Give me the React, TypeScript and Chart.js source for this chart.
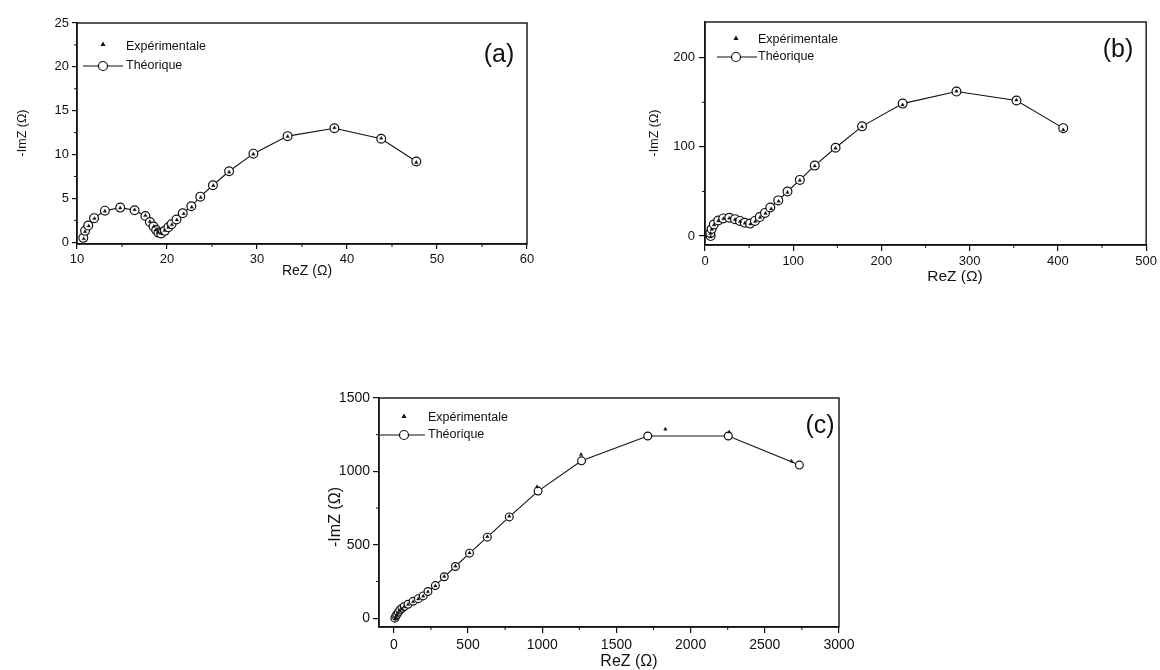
import React, { useEffect, useRef } from 'react';
import { Chart, registerables } from 'chart.js';

Chart.register(...registerables);

// ---------- shared text ----------
const legendLabels = ['Expérimentale', 'Théorique'];
const xTitle = 'ReZ (Ω)';
const yTitle = '-ImZ (Ω)';

// ---------- panel (a) ----------
const reA_theo = [10.7, 10.9, 11.25, 11.9, 13.1, 14.8, 16.4, 17.6, 18.1, 18.5, 18.8, 19.05, 19.35, 19.75, 20.15, 20.5, 21.05, 21.75, 22.7, 23.7, 25.1, 26.9, 29.6, 33.4, 38.6, 43.8, 47.7];
const imA_theo = [0.5, 1.3, 1.9, 2.75, 3.6, 3.95, 3.65, 3.0, 2.3, 1.8, 1.4, 1.1, 1.0, 1.3, 1.7, 2.05, 2.6, 3.3, 4.1, 5.2, 6.5, 8.1, 10.1, 12.1, 13.0, 11.8, 9.2];
const reA_exp = [10.75, 10.9, 11.3, 11.95, 13.1, 14.8, 16.4, 17.6, 18.1, 18.55, 18.85, 19.05, 19.35, 19.75, 20.15, 20.55, 21.1, 21.85, 22.75, 23.75, 25.15, 26.9, 29.6, 33.4, 38.6, 43.8, 47.7];
const imA_exp = [0.4, 1.2, 1.85, 2.7, 3.55, 3.9, 3.7, 3.05, 2.35, 1.8, 1.4, 1.1, 1.0, 1.35, 1.7, 2.0, 2.55, 3.25, 4.0, 5.1, 6.45, 8.0, 10.05, 12.05, 13.05, 11.85, 9.1];
const xTicksA = [10, 20, 30, 40, 50, 60];
const yTicksA = [0, 5, 10, 15, 20, 25];

// ---------- panel (b) ----------
const reB_theo = [6.4, 6.0, 7.5, 10, 15, 20.7, 27.5, 34, 39.6, 45, 51, 56.6, 62, 68, 74, 83, 93.5, 107.5, 124.4, 148, 178, 224, 285, 353, 406];
const imB_theo = [0, 3.5, 8, 13, 17.5, 19.8, 20.5, 19, 17, 15, 14, 17, 21.3, 26, 32, 40, 50, 63, 79, 99, 123, 148.5, 162, 152, 121];
const reB_exp = [6.4, 6.2, 7.6, 10.2, 15.2, 21, 27.5, 34, 39.8, 45.2, 51.5, 57, 62.5, 68.5, 75, 83.5, 93.5, 107.5, 124.4, 148, 178, 224, 285, 353, 406];
const imB_exp = [-1, 3, 7.5, 12.5, 17, 19.5, 20, 18.5, 16.5, 14.5, 13.5, 16.5, 21, 25.5, 30.5, 39, 49, 62.5, 78.5, 98.5, 122.5, 147, 162.5, 152.5, 119];
const xTicksB = [0, 100, 200, 300, 400, 500];
const yTicksB = [0, 100, 200];

// ---------- panel (c) ----------
const reC_theo = [7, 13, 20, 30, 40, 55, 70, 96, 130, 165, 198, 230, 280, 340, 415, 510, 630, 778, 972, 1265, 1711, 2254, 2733];
const imC_theo = [0, 14, 25, 40, 55, 68, 80, 95, 115, 133, 152, 182, 222, 282, 352, 443, 552, 690, 866, 1072, 1241, 1241, 1043];
const reC_exp = [7, 13, 20, 30, 40, 55, 70, 96, 130, 165, 198, 230, 280, 340, 415, 510, 630, 778, 965, 1262, 1830, 2260, 2680];
const imC_exp = [-5, 10, 22, 37, 52, 65, 78, 93, 112, 131, 150, 180, 220, 285, 355, 445, 555, 695, 895, 1115, 1288, 1268, 1070];
const xTicksC = [0, 500, 1000, 1500, 2000, 2500, 3000];
const yTicksC = [0, 500, 1000, 1500];

const FONT = '"Liberation Sans", Arial, sans-serif';
const INK = '#111';

const midpoints = (t: number[]) => t.slice(0, -1).map((v, i) => (v + t[i + 1]) / 2);

const decorPlugin = {
  id: 'decor',
  afterDraw(chart: any, _args: any, o: any) {
    const { ctx, chartArea: a, scales } = chart;
    ctx.save();
    ctx.strokeStyle = INK;
    ctx.fillStyle = INK;
    // frame
    ctx.lineWidth = 1.4;
    ctx.strokeRect(a.left, a.top, a.right - a.left, a.bottom - a.top);
    // minor ticks
    ctx.lineWidth = 1;
    ctx.beginPath();
    for (const v of o.xMinor) {
      const px = scales.x.getPixelForValue(v);
      ctx.moveTo(px, a.bottom);
      ctx.lineTo(px, a.bottom + 3);
    }
    for (const v of o.yMinor) {
      const py = scales.y.getPixelForValue(v);
      ctx.moveTo(a.left, py);
      ctx.lineTo(a.left - 3, py);
    }
    ctx.stroke();
    // axis titles
    ctx.textAlign = 'center';
    ctx.textBaseline = 'middle';
    ctx.font = `${o.xTitleSize}px ${FONT}`;
    ctx.fillText(xTitle, o.xTitlePos[0], o.xTitlePos[1]);
    ctx.save();
    ctx.translate(o.yTitlePos[0], o.yTitlePos[1]);
    ctx.rotate(-Math.PI / 2);
    ctx.font = `${o.yTitleSize}px ${FONT}`;
    ctx.fillText(yTitle, 0, 0);
    ctx.restore();
    // panel label
    ctx.font = `25px ${FONT}`;
    ctx.fillText(o.label, o.labelPos[0], o.labelPos[1]);
    // legend
    const L = o.legend;
    ctx.beginPath();
    const s = 2.6;
    ctx.moveTo(L.mx, L.tri - s);
    ctx.lineTo(L.mx + s, L.tri + s * 0.8);
    ctx.lineTo(L.mx - s, L.tri + s * 0.8);
    ctx.closePath();
    ctx.fill();
    ctx.lineWidth = 1.2;
    ctx.beginPath();
    ctx.moveTo(L.lx1, L.row2);
    ctx.lineTo(L.lx2, L.row2);
    ctx.stroke();
    ctx.beginPath();
    ctx.arc(L.mx, L.row2, 4.5, 0, Math.PI * 2);
    ctx.fillStyle = '#fff';
    ctx.fill();
    ctx.stroke();
    ctx.fillStyle = INK;
    ctx.textAlign = 'left';
    ctx.font = `12.5px ${FONT}`;
    ctx.fillText(legendLabels[0], L.tx, L.row1);
    ctx.fillText(legendLabels[1], L.tx, L.row2);
    ctx.restore();
  },
};

type PanelProps = {
  left: number; top: number; width: number; height: number;
  yWidth: number; padTop: number; padRight: number; xHeight: number;
  xMin: number; xMax: number; yMin: number; yMax: number;
  xTicks: number[]; yTicks: number[];
  reT: number[]; imT: number[]; reE: number[]; imE: number[];
  tickSize: number; tickLen: number; yPad: number; xPad: number;
  decor: any; radius: number;
};

function Panel(p: PanelProps) {
  const ref = useRef<HTMLCanvasElement>(null);
  useEffect(() => {
    const toPts = (xs: number[], ys: number[]) => xs.map((x, i) => ({ x, y: ys[i] }));
    const chart = new Chart(ref.current!, {
      type: 'scatter',
      data: {
        datasets: [
          {
            label: legendLabels[0],
            data: toPts(p.reE, p.imE),
            showLine: false,
            pointStyle: 'triangle',
            pointRadius: 2.1,
            backgroundColor: INK,
            borderColor: INK,
            borderWidth: 0.3,
          },
          {
            label: legendLabels[1],
            data: toPts(p.reT, p.imT),
            showLine: true,
            borderColor: INK,
            borderWidth: 1.1,
            pointStyle: 'circle',
            pointRadius: p.radius,
            pointBorderWidth: 1.2,
            pointBackgroundColor: '#fff',
            pointBorderColor: INK,
            tension: 0,
          },
        ],
      },
      options: {
        animation: false,
        responsive: false,
        devicePixelRatio: 1,
        layout: { padding: { left: 0, top: p.padTop, right: p.padRight, bottom: 0 } },
        plugins: {
          legend: { display: false },
          tooltip: { enabled: false },
          decor: p.decor,
        } as any,
        scales: {
          x: {
            type: 'linear',
            min: p.xMin,
            max: p.xMax,
            afterBuildTicks: (s: any) => { s.ticks = p.xTicks.map((v) => ({ value: v })); },
            afterFit: (s: any) => { s.height = p.xHeight; },
            ticks: {
              color: INK,
              font: { family: FONT, size: p.tickSize },
              padding: p.xPad,
              maxRotation: 0,
              callback: (v: any) => String(v),
            },
            grid: { drawOnChartArea: false, drawTicks: true, tickLength: p.tickLen, color: INK, lineWidth: 1.2 },
            border: { display: true, color: INK, width: 1.4 },
          },
          y: {
            type: 'linear',
            min: p.yMin,
            max: p.yMax,
            afterBuildTicks: (s: any) => { s.ticks = p.yTicks.map((v) => ({ value: v })); },
            afterFit: (s: any) => { s.width = p.yWidth; },
            ticks: {
              color: INK,
              font: { family: FONT, size: p.tickSize },
              padding: p.yPad,
              callback: (v: any) => String(v),
            },
            grid: { drawOnChartArea: false, drawTicks: true, tickLength: p.tickLen, color: INK, lineWidth: 1.2 },
            border: { display: true, color: INK, width: 1.4 },
          },
        },
      },
      plugins: [decorPlugin],
    } as any);
    return () => chart.destroy();
  }, []);
  return (
    <canvas
      ref={ref}
      width={p.width}
      height={p.height}
      style={{ position: 'absolute', left: p.left, top: p.top, width: p.width, height: p.height }}
    />
  );
}

export default function App() {
  return (
    <div style={{ position: 'absolute', left: 0, top: 0, width: 1160, height: 670, background: '#fff', overflow: 'hidden' }}>
      <Panel
        left={0} top={0} width={560} height={290}
        yWidth={77} padTop={23} padRight={33} xHeight={46}
        xMin={10} xMax={60} yMin={-0.2} yMax={25}
        xTicks={xTicksA} yTicks={yTicksA}
        reT={reA_theo} imT={imA_theo} reE={reA_exp} imE={imA_exp}
        tickSize={13} tickLen={5} yPad={3} xPad={3} radius={4.4}
        decor={{
          xMinor: midpoints(xTicksA), yMinor: midpoints(yTicksA),
          xTitlePos: [307, 271], xTitleSize: 14,
          yTitlePos: [23, 133], yTitleSize: 12.5,
          label: '(a)', labelPos: [499, 55],
          legend: { mx: 103, tri: 44, row1: 47, row2: 66, lx1: 83, lx2: 123, tx: 126 },
        }}
      />
      <Panel
        left={580} top={0} width={580} height={290}
        yWidth={125} padTop={22} padRight={13} xHeight={45}
        xMin={0} xMax={500} yMin={-10} yMax={240}
        xTicks={xTicksB} yTicks={yTicksB}
        reT={reB_theo} imT={imB_theo} reE={reB_exp} imE={imB_exp}
        tickSize={13} tickLen={6} yPad={4} xPad={3} radius={4.4}
        decor={{
          xMinor: midpoints(xTicksB), yMinor: midpoints(yTicksB),
          xTitlePos: [375, 277], xTitleSize: 15.5,
          yTitlePos: [75, 133], yTitleSize: 12.5,
          label: '(b)', labelPos: [538, 50],
          legend: { mx: 156, tri: 38, row1: 40, row2: 57, lx1: 137, lx2: 177, tx: 178 },
        }}
      />
      <Panel
        left={300} top={380} width={560} height={290}
        yWidth={79} padTop={18} padRight={21} xHeight={43}
        xMin={-100} xMax={3000} yMin={-60} yMax={1500}
        xTicks={xTicksC} yTicks={yTicksC}
        reT={reC_theo} imT={imC_theo} reE={reC_exp} imE={imC_exp}
        tickSize={14} tickLen={6} yPad={3} xPad={4} radius={3.9}
        decor={{
          xMinor: midpoints(xTicksC), yMinor: midpoints(yTicksC),
          xTitlePos: [329, 282], xTitleSize: 16,
          yTitlePos: [36, 137], yTitleSize: 16,
          label: '(c)', labelPos: [520, 46],
          legend: { mx: 104, tri: 36, row1: 38, row2: 55, lx1: 80, lx2: 125, tx: 128 },
        }}
      />
    </div>
  );
}
